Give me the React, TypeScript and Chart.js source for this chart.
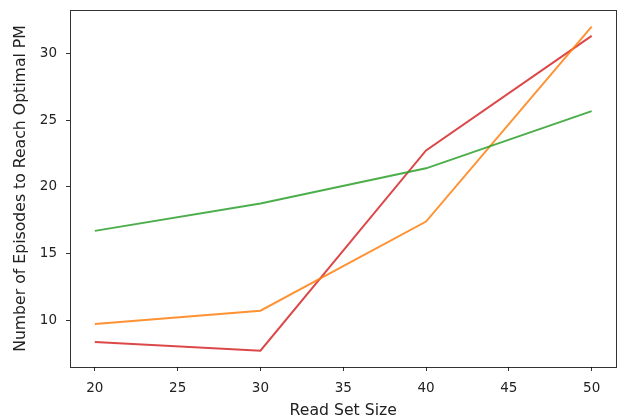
import React, { useEffect, useRef } from "react";
import { Chart, registerables } from "chart.js";

Chart.register(...registerables);

const readSetSizes = [20, 30, 40, 50];
const greenSeries = [16.7, 18.75, 21.4, 25.7];
const orangeSeries = [9.7, 10.7, 17.4, 32.05];
const redSeries = [8.35, 7.7, 22.75, 31.35];
const xTicks = [20, 25, 30, 35, 40, 45, 50];
const yTicks = [10, 15, 20, 25, 30];

const xTitle = "Read Set Size";
const yTitle = "Number of Episodes to Reach Optimal PM";

const FONT = "'DejaVu Sans', sans-serif";

const frame = {
  id: "frame",
  afterDatasetsDraw(chart: any) {
    const { ctx, chartArea } = chart;
    ctx.save();
    ctx.strokeStyle = "rgba(0,0,0,0.8)";
    ctx.lineWidth = 1;
    ctx.strokeRect(
      Math.round(chartArea.left) + 0.5,
      Math.round(chartArea.top) + 0.5,
      Math.round(chartArea.right - chartArea.left) - 1,
      Math.round(chartArea.bottom - chartArea.top)
    );
    ctx.restore();
  },
};

const noPad = (s: any) => {
  s.paddingTop = 0;
  s.paddingBottom = 0;
  s.paddingLeft = 0;
  s.paddingRight = 0;
};

export default function App() {
  const ref = useRef<HTMLCanvasElement>(null);
  useEffect(() => {
    document.body.style.margin = "0";
    const toPts = (ys: number[]) => readSetSizes.map((x, i) => ({ x, y: ys[i] }));
    const chart = new Chart(ref.current!, {
      type: "line",
      data: {
        datasets: [
          { data: toPts(greenSeries), borderColor: "rgba(44,160,44,0.85)", borderWidth: 2, pointRadius: 0, tension: 0 },
          { data: toPts(orangeSeries), borderColor: "rgba(255,127,14,0.85)", borderWidth: 2, pointRadius: 0, tension: 0 },
          { data: toPts(redSeries), borderColor: "rgba(214,39,40,0.85)", borderWidth: 2, pointRadius: 0, tension: 0 },
        ],
      },
      options: {
        animation: false,
        responsive: false,
        devicePixelRatio: 1,
        layout: { padding: { top: 10, right: 1.5, left: 0, bottom: 0 } },
        plugins: { legend: { display: false }, tooltip: { enabled: false } },
        scales: {
          x: {
            type: "linear",
            min: 18.5,
            max: 51.5,
            afterFit: (s: any) => { s.height = 50; noPad(s); },
            afterBuildTicks: (s: any) => { s.ticks = xTicks.map((v) => ({ value: v })); },
            ticks: { font: { family: FONT, size: 13.5 }, color: "#222", padding: 9.5, maxRotation: 0, includeBounds: false },
            grid: { display: true, drawOnChartArea: false, drawTicks: true, tickLength: 4, color: "#333" },
            border: { display: false },
            title: { display: true, text: xTitle, font: { family: FONT, size: 15.7, lineHeight: 0.8 }, color: "#222", padding: { top: 0, bottom: 0 } },
          },
          y: {
            type: "linear",
            min: 6.47,
            max: 33.3,
            afterFit: (s: any) => { s.width = 70; noPad(s); },
            afterBuildTicks: (s: any) => { s.ticks = yTicks.map((v) => ({ value: v })); },
            ticks: { font: { family: FONT, size: 13.5 }, color: "#222", padding: 9, includeBounds: false },
            grid: { display: true, drawOnChartArea: false, drawTicks: true, tickLength: 4, color: "#333" },
            border: { display: false },
            title: { display: true, text: yTitle, font: { family: FONT, size: 15.7, lineHeight: 1 }, color: "#222", padding: { top: 13, bottom: 0 } },
          },
        },
      },
      plugins: [frame],
    });
    return () => chart.destroy();
  }, []);
  return (
    <div style={{ position: "absolute", left: 0, top: 0, width: 618, height: 417, background: "#fff" }}>
      <canvas ref={ref} width={618} height={417} style={{ width: 618, height: 417, display: "block" }} />
    </div>
  );
}
